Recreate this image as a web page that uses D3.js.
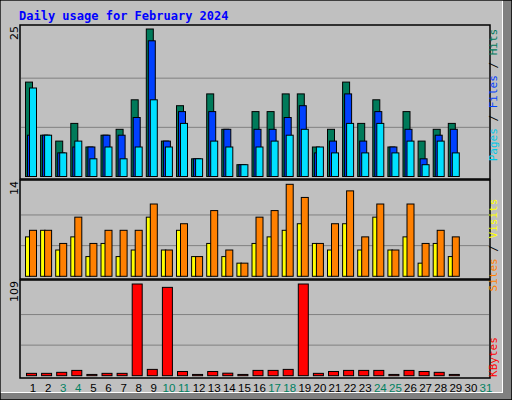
<!DOCTYPE html>
<html><head><meta charset="utf-8">
<script src="https://cdn.jsdelivr.net/npm/d3@7"></script>
<style>body{margin:0;background:#fff}svg{display:block}</style>
</head><body><svg id="c" width="512" height="400"></svg>
<script>
const days = d3.range(1,32);
const weekend = [3,4,10,11,17,18,24,25,31];
const hits  = [16,7,6,9,5,7,8,13,25,6,12,3,14,8,2,11,11,14,14,5,8,16,9,13,5,11,6,8,9,0,0];
const files = [7,7,4,5,5,7,7,10,23,6,11,3,11,8,2,8,8,10,12,4,6,14,6,11,5,8,3,7,8,0,0];
const pages = [15,7,4,6,3,5,3,5,13,5,9,3,6,5,2,5,6,7,8,5,4,9,4,9,4,6,2,6,4,0,0];
const sites = [6,7,4,6,3,5,3,4,9,4,7,3,5,3,2,5,6,7,8,5,4,8,4,9,4,6,2,5,3,0,0];
const visits= [7,7,5,9,5,7,7,7,11,4,8,3,10,4,2,9,10,14,12,5,8,13,6,11,4,11,5,7,6,0,0];
const kbytes= [2.8,2.8,4,6.3,1.5,2.8,2.8,109,7.5,105,5,1.5,5,3,1.5,6.3,6.3,7.5,109,2.8,5,6.3,6.3,6.3,1.5,6.3,5,4,1.5,0,0];

const svg = d3.select("#c");
svg.append("rect").attr("width",512).attr("height",400).attr("fill","#c0c0c0");
svg.append("rect").attr("x",503).attr("y",0).attr("width",9).attr("height",400).attr("fill","#808080");
svg.append("rect").attr("x",0).attr("y",393).attr("width",512).attr("height",7).attr("fill","#808080");
svg.append("rect").attr("x",0.5).attr("y",0.5).attr("width",502).attr("height",392).attr("fill","none").attr("stroke","#fff");
svg.append("rect").attr("x",0).attr("y",0).attr("width",512).attr("height",400).attr("fill","none").attr("stroke","#000").attr("stroke-width",1.5);
svg.append("text").attr("x",19).attr("y",20).text("Daily usage for February 2024")
  .attr("font-family","DejaVu Sans Mono").attr("font-weight","bold").attr("font-size",12).attr("fill","#0000ff");

const L=20,R=490;
const x = d3.scaleBand().domain(days).range([25,25+15.1*31]).paddingInner(0);
const gridC="#808080";
// panels
const panels=[{t:25,b:179,base:176.5,top:29,max:25},{t:180,b:279,base:276.3,top:184.3,max:14},{t:280,b:378,base:375.7,top:284,max:109}];
panels.forEach(p=>{
  svg.append("rect").attr("x",L).attr("y",p.t).attr("width",R-L).attr("height",p.b-p.t).attr("fill","#c0c0c0").attr("stroke","#000").attr("stroke-width",1.5);
  const h=p.base-p.top;
  [1,2].forEach(i=>svg.append("line").attr("x1",L+1).attr("x2",R-1).attr("y1",p.base-h*i/3).attr("y2",p.base-h*i/3).attr("stroke",gridC).attr("stroke-width",1));
  svg.append("text").attr("transform",`translate(18,${p.t+1}) rotate(-90)`).attr("text-anchor","end")
   .attr("font-family","DejaVu Sans").attr("font-size",11).text(p.max);
});
const yA=d3.scaleLinear().domain([0,25]).range([176.5,29]);
const yB=d3.scaleLinear().domain([0,14]).range([276.3,184.3]);
const yC=d3.scaleLinear().domain([0,109]).range([375.7,284]);
function bars(data,y,off,w,col){
  svg.append("g").selectAll("rect").data(days).join("rect")
   .attr("x",d=>x(d)+off).attr("width",w)
   .attr("y",(d,i)=>y(data[i])).attr("height",(d,i)=>Math.max(0,y(0)-y(data[i])))
   .attr("fill",col).attr("stroke","#000").attr("stroke-width",1)
   .attr("display",(d,i)=>data[i]>0?null:"none");
}
bars(hits,yA,0.5,7,"#007a5a");
bars(files,yA,2.5,7,"#0040ff");
bars(pages,yA,4.5,7,"#00e0ff");
bars(sites,yB,0.5,4.5,"#ffff00");
bars(visits,yB,4.5,7,"#ff8000");
bars(kbytes,yC,1.5,10,"#ff0000");
// day labels
svg.append("g").selectAll("text").data(days).join("text")
 .attr("x",d=>x(d)+8).attr("y",392).attr("text-anchor","middle")
 .attr("font-family","Liberation Sans").attr("font-size",11.5)
 .attr("fill",d=>weekend.includes(d)?"#008060":"#000").text(d=>d);
// right labels
function rlabel(yc,parts){
  const t=svg.append("text").attr("transform",`translate(497,${yc}) rotate(-90)`).attr("text-anchor","middle")
   .attr("font-family","DejaVu Sans Mono").attr("font-size",11);
  parts.forEach(([s,c])=>t.append("tspan").attr("fill",c).text(s));
}
rlabel(95,[["Pages","#00c8e8"],[" / ","#000"],["Files","#0040ff"],[" / ","#000"],["Hits","#007a5a"]]);
rlabel(245,[["Sites","#ff8000"],[" / ","#000"],["Visits","#ffff00"]]);
rlabel(357,[["KBytes","#ff0000"]]);
</script></body></html>
